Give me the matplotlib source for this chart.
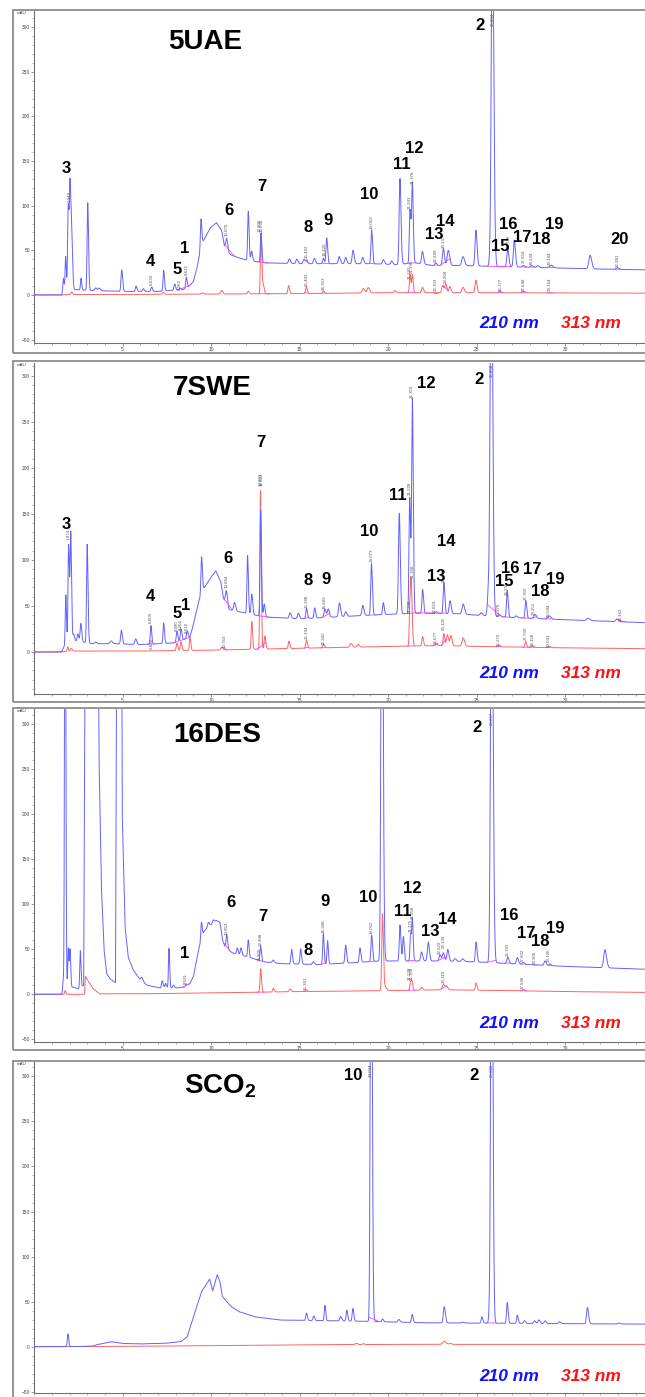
# HPLC chromatograms 210 / 313 nm, four extracts
import numpy as np
import matplotlib.pyplot as plt
from matplotlib.patches import Rectangle
from matplotlib.ticker import MultipleLocator, FixedLocator

plt.rcParams['font.family'] = ['Liberation Sans', 'DejaVu Sans']
plt.rcParams['mathtext.fontset'] = 'custom'
plt.rcParams['mathtext.rm'] = 'Liberation Sans:bold'

# ---------------- data (min, mAU) ----------------
# 5UAE
uae_blue_base = [(0, 0), (1.55, 0), (1.7, 5), (2.3, 6), (3.3, 5), (5, 4), (7, 4), (8.4, 6), (8.7, 9),
                 (9.0, 15), (9.2, 30), (9.4, 50), (9.55, 60), (9.95, 75), (10.3, 81), (10.6, 72),
                 (10.75, 55), (11.0, 46), (11.5, 42), (12.0, 39), (13, 36), (15, 35), (19, 35),
                 (20.5, 34), (21.5, 36), (22.5, 33), (24, 33), (26, 32), (28, 31), (30, 30),
                 (32, 29), (35, 28)]
uae_blue_peaks = [(1.65, 15, .03), (1.78, 38, .03), (1.93, 95, .035), (2.03, 112, .035), (2.12, 60, .04),
                  (2.65, 13, .03), (3.03, 98, .035), (3.48, 3, .05), (3.67, 3, .05), (4.95, 24, .04),
                  (5.76, 6, .04), (6.17, 3, .04), (6.64, 5, .04), (7.32, 23, .035), (7.94, 7, .04),
                  (8.24, 2, .04), (8.6, 12, .035), (9.43, 33, .035), (10.88, 13, .05), (12.1, 55, .035),
                  (12.29, 11, .04), (12.82, 33, .035), (14.42, 5, .05), (14.84, 5, .05), (15.25, 5, .05),
                  (15.4, 4, .04), (15.83, 6, .05), (16.34, 6, .04), (16.53, 29, .04), (17.24, 8, .05),
                  (17.6, 7, .05), (18.02, 15, .05), (18.56, 7, .05), (19.07, 38, .04), (19.73, 5, .05),
                  (20.2, 4, .05), (20.67, 96, .045), (21.24, 60, .04), (21.37, 88, .04), (21.94, 14, .05),
                  (22.69, 3, .05), (23.12, 19, .05), (23.4, 17, .06), (24.23, 10, .07), (24.96, 40, .05),
                  (25.76, 8, .05), (25.89, 400, .06), (26.76, 20, .05), (27.13, 30, .05), (27.64, 2, .05),
                  (28.11, 2, .06), (28.45, 2, .06), (29.2, 3, .08), (31.41, 15, .07), (32.95, 2, .06)]
uae_red_base = [(0, 0), (1.55, 0), (2, .5), (5, .5), (10, 1), (15, 1.5), (20, 2.5), (25, 2.5), (35, 2)]
uae_red_peaks = [(2.12, 3, .04), (7.3, 2, .05), (9.5, 1.5, .05), (10.6, 4, .05), (12.1, 3, .04),
                 (12.82, 68, .035), (12.95, 10, .04), (14.38, 9, .04), (15.38, 8, .04), (16.34, 3, .04),
                 (18.6, 5, .06), (18.88, 6, .06), (20.39, 2.5, .05), (21.24, 21, .035), (21.37, 20, .035),
                 (21.94, 6, .05), (23.08, 8, .05), (23.25, 10, .05), (23.49, 7, .05), (24.23, 6, .06),
                 (24.96, 14, .05), (26.32, 2, .06), (27.64, 2, .06)]
uae_nums = ["3", "4", "5", "1", "6", "7", "8", "9", "10", "11", "12", "13", "14", "2", "15", "16", "17", "18", "19", "20"]
uae_num_pos = [(1.8, 142), (6.55, 38), (8.09, 28), (8.53, 52), (11.01, 95), (12.86, 121), (15.49, 75),
               (16.62, 83), (18.92, 113), (20.77, 146), (21.48, 164), (22.59, 68), (23.21, 82), (25.19, 302),
               (26.32, 54), (26.79, 79), (27.6, 64), (28.63, 62), (29.37, 79), (33.07, 62)]
uae_rt_blue = [(2.03, 104, "2.049"), (6.64, 11, "6.639"), (8.24, 6, "8.262"), (8.6, 22, "8.615"),
               (10.88, 66, "10.870"), (12.76, 70, "12.806"), (12.88, 70, "12.830"), (15.4, 41, "15.402"),
               (16.42, 44, "16.420"), (19.07, 74, "19.063"), (21.22, 96, "21.243"), (21.37, 124, "21.376"),
               (22.69, 37, "22.689"), (23.14, 53, "23.137"), (25.89, 316, "25.884"), (26.8, 53, "26.798"),
               (27.65, 36, "27.654"), (28.12, 34, "28.124"), (29.16, 34, "29.164"), (32.98, 31, "32.981")]
uae_rt_red = [(15.4, 10, "15.403"), (16.35, 5, "16.353"), (21.2, 18, "21.242"), (21.33, 25, "21.335"),
              (22.7, 4, "22.703"), (23.27, 13, "23.268"), (26.38, 4, "26.377"), (27.65, 4, "27.648"),
              (29.16, 4, "29.164")]
uae_marks_blue = [(8.1, 8.75), (10.73, 11.3), (12.6, 13.2), (15.3, 15.55), (16.25, 16.7), (18.95, 19.25),
                  (21.1, 21.55), (22.55, 22.8), (22.95, 23.5), (25.6, 26.5), (26.55, 26.95), (27.55, 27.8),
                  (28.0, 28.3), (29.0, 29.4), (32.8, 33.15)]
uae_marks_red = [(12.7, 13.3), (15.3, 15.5), (16.25, 16.5), (21.1, 21.5), (22.6, 22.8), (23.1, 23.4),
                 (26.2, 26.5), (27.5, 27.8), (29.0, 29.3)]

# 7SWE
swe_blue_base = [(0, 0), (1.55, 0), (1.7, 6), (2.3, 12), (3.3, 9), (4.5, 9), (6, 8), (8, 10), (8.8, 16),
                 (9.0, 30), (9.3, 55), (9.55, 68), (9.95, 80), (10.27, 88), (10.55, 76), (10.7, 58),
                 (11.0, 46), (11.5, 44), (12, 42), (13, 38), (15, 36), (17, 38), (19, 40), (21.5, 42),
                 (24, 41.5), (26, 38.5), (27.5, 37), (30, 35), (35, 31.5)]
swe_blue_peaks = [(1.79, 55, .03), (1.95, 108, .035), (2.07, 118, .035), (2.23, 8, .04), (2.47, 8, .04),
                  (2.64, 20, .04), (3.0, 107, .035), (3.47, 2, .05), (4.35, 3, .06), (4.93, 15, .04),
                  (5.74, 6, .05), (6.6, 20, .035), (7.32, 22, .035), (8.07, 12, .04), (8.3, 13, .04),
                  (8.65, 8, .04), (9.46, 40, .035), (10.86, 15, .05), (11.32, 9, .05), (12.06, 63, .035),
                  (12.3, 22, .04), (12.8, 115, .035), (13.0, 14, .04), (14.46, 6, .05), (14.93, 6, .05),
                  (15.39, 11, .04), (15.85, 11, .04), (16.43, 9, .05), (16.62, 9, .05), (17.25, 15, .05),
                  (17.6, 5, .05), (18.57, 11, .05), (19.06, 56, .04), (19.73, 13, .04), (20.63, 109, .045),
                  (21.22, 126, .04), (21.37, 232, .04), (21.95, 26, .04), (22.72, 2, .05), (23.15, 34, .04),
                  (23.5, 14, .05), (24.24, 11, .06), (25.26, 3, .06), (25.68, 30, .06), (25.83, 450, .06),
                  (26.3, 2, .05), (26.73, 29, .04), (27.24, 2, .05), (27.78, 19, .04), (28.3, 4.5, .06),
                  (29.1, 3.5, .07), (31.3, 2.5, .08), (32.93, 3, .06)]
swe_red_base = [(0, 0), (1.55, 0), (2, 1), (6, 1), (10, 2), (15, 4), (20, 6), (23, 7), (25, 6),
                (30, 4.5), (35, 3.5)]
swe_red_peaks = [(1.9, 5, .03), (2.1, 3, .04), (8.07, 8, .04), (8.3, 9, .04), (8.81, 14, .035),
                 (10.6, 3, .05), (12.3, 30, .035), (12.79, 172, .035), (13.04, 14, .04), (14.4, 8, .04),
                 (15.39, 9, .04), (16.36, 4, .04), (17.9, 4, .06), (18.3, 3, .06), (21.22, 30, .03),
                 (21.3, 70, .045), (21.95, 10, .04), (22.72, 3, .05), (23.15, 13, .04), (23.35, 12, .05),
                 (23.55, 11, .05), (24.24, 9, .06), (26.26, 2, .05), (27.77, 6, .04), (28.16, 2, .05),
                 (29.1, 1.5, .05)]
swe_nums = ["3", "4", "5", "1", "6", "7", "8", "9", "10", "11", "12", "13", "14", "2", "15", "16", "17", "18", "19"]
swe_num_pos = [(1.79, 138), (6.56, 60), (8.07, 42), (8.58, 51), (10.97, 102), (12.79, 227), (15.46, 78),
               (16.5, 79), (18.94, 131), (20.57, 170), (22.17, 291), (22.71, 82), (23.29, 120), (25.15, 296),
               (26.54, 76), (26.89, 91), (28.12, 89), (28.59, 66), (29.45, 79)]
swe_rt_blue = [(1.97, 122, "1.974"), (6.61, 31, "6.609"), (6.63, 3, "6.632"), (8.08, 23, "8.080"),
               (8.27, 24, "8.266"), (8.61, 21, "8.610"), (10.86, 69, "10.864"), (12.79, 180, "12.801"),
               (12.86, 180, "12.822"), (15.39, 48, "15.388"), (16.41, 47, "16.409"), (19.07, 98, "19.073"),
               (21.23, 170, "21.228"), (21.36, 276, "21.359"), (21.42, 80, "21.368"), (21.25, 42, "21.248"),
               (22.66, 42, "22.659"), (23.15, 76, "23.148"), (25.86, 314, "25.858"), (26.27, 39, "26.270"),
               (26.73, 62, "26.735"), (27.77, 56, "27.769"), (28.25, 40, "28.251"), (29.09, 38, "29.094"),
               (33.16, 34, "33.162")]
swe_rt_red = [(10.76, 4, "10.763"), (15.39, 14, "15.394"), (16.34, 8, "16.342"), (22.68, 9, "22.677"),
              (23.13, 24, "23.125"), (26.27, 6, "26.272"), (27.77, 13, "27.799"), (28.16, 6, "28.158"),
              (29.09, 5, "29.093")]
swe_marks_blue = [(6.4, 6.8), (7.9, 8.8), (10.7, 11.2), (12.6, 13.3), (15.25, 15.5), (16.3, 16.7),
                  (18.9, 19.3), (21.05, 21.55), (21.55, 23.3), (25.6, 26.4), (26.5, 26.9), (27.6, 27.95),
                  (28.1, 28.4), (28.9, 29.3), (33.0, 33.4)]
swe_marks_red = [(10.6, 10.9), (12.6, 13.1), (15.25, 15.5), (16.2, 16.5), (21.1, 21.5), (22.5, 22.8),
                 (23.0, 23.3), (26.1, 26.4), (27.6, 28.3), (28.9, 29.2)]

# 16DES
des_blue_base = [(0, 0), (1.55, 0), (1.7, 5), (2.2, 8), (2.5, 6), (2.8, 10), (2.86, 300), (2.95, 700),
                 (3.5, 700), (3.67, 260), (3.8, 120), (3.95, 50), (4.1, 23), (4.3, 17), (4.6, 13),
                 (4.66, 400), (4.75, 700), (4.9, 700), (4.98, 200), (5.14, 75), (5.32, 41), (5.6, 27),
                 (6.0, 16), (6.4, 10), (7.1, 7), (8.0, 7), (8.5, 8), (8.8, 12), (9.0, 20), (9.3, 50),
                 (9.6, 70), (9.95, 77), (10.3, 82), (10.5, 80), (10.65, 60), (10.8, 52), (11.2, 46),
                 (12.0, 42), (13, 36), (14, 34), (16, 33), (18, 35), (19.5, 37), (23, 37), (25, 36),
                 (27, 34), (30, 31), (35, 27.5)]
des_blue_peaks = [(1.65, 12, .03), (1.75, 600, .03), (1.93, 45, .03), (2.03, 42, .03), (2.61, 41, .03),
                  (6.08, 4, .05), (7.24, 8, .04), (7.43, 5, .04), (7.62, 44, .03), (7.87, 3, .04),
                  (8.59, 2, .04), (9.45, 20, .035), (9.84, 5, .04), (10.13, 3, .04), (10.88, 16, .04),
                  (11.48, 7, .04), (11.69, 8, .04), (12.1, 19, .035), (12.8, 16, .035), (13.5, 3, .05),
                  (14.55, 16, .04), (15.06, 17, .04), (15.77, 3, .05), (16.34, 34, .035), (16.58, 26, .035),
                  (17.6, 20, .04), (18.41, 16, .04), (19.07, 29, .04), (19.65, 600, .05), (20.67, 40, .04),
                  (20.86, 27, .04), (21.27, 30, .035), (21.37, 45, .035), (21.89, 10, .05), (22.27, 21, .05),
                  (22.93, 7, .05), (23.12, 9, .05), (23.37, 13, .05), (23.78, 3, .06), (24.21, 3, .06),
                  (24.97, 22, .04), (25.85, 500, .06), (26.76, 7, .05), (27.3, 7, .05), (27.64, 2, .05),
                  (28.86, 5, .05), (29.14, 2, .05), (32.25, 20, .07)]
des_red_base = [(0, 0), (1.55, 0), (2.85, 0), (2.9, 20), (3.1, 13), (3.35, 6), (3.7, .5), (6, .5),
                (10, 1.5), (15, 3), (20, 4), (23, 5), (27, 4), (30, 3), (35, 2)]
des_red_peaks = [(1.75, 4, .03), (12.8, 26, .035), (13.52, 4, .04), (14.46, 3, .05), (15.36, 2, .05),
                 (19.68, 84, .04), (19.8, 5, .08), (21.27, 9, .04), (21.35, 8, .04), (21.89, 3, .05),
                 (23.12, 6, .06), (23.3, 4, .06), (24.97, 8, .04), (27.64, 1.5, .05)]
des_nums = ["1", "6", "7", "8", "9", "10", "11", "12", "13", "14", "2", "16", "17", "18", "19"]
des_num_pos = [(8.49, 45), (11.13, 102), (12.95, 86), (15.5, 49), (16.43, 103), (18.87, 108), (20.85, 92),
               (21.38, 117), (22.4, 70), (23.33, 83), (25.03, 296), (26.84, 88), (27.82, 67), (28.59, 59),
               (29.45, 73)]
des_rt_blue = [(8.59, 11, "8.591"), (10.85, 66, "10.853"), (12.81, 54, "12.808"), (12.75, 37, "12.800"),
               (16.35, 68, "16.348"), (19.05, 67, "19.052"), (21.28, 69, "21.275"), (21.37, 84, "21.358"),
               (22.93, 45, "22.929"), (23.17, 51, "23.135"), (25.86, 314, "25.867"), (26.77, 43, "26.765"),
               (27.6, 36, "27.602"), (28.3, 34, "28.300"), (29.1, 36, "29.100")]
des_rt_red = [(15.36, 5, "15.361"), (21.22, 16, "21.238"), (21.33, 16, "21.358"), (23.12, 12, "23.119"),
              (27.6, 6, "27.598")]
des_marks_blue = [(8.4, 8.8), (10.7, 11.1), (12.6, 13.0), (16.2, 16.5), (18.9, 19.25), (21.1, 21.5),
                  (22.8, 23.3), (25.6, 26.1), (26.6, 26.9), (27.5, 27.75), (28.2, 28.4), (29.0, 29.3)]
des_marks_red = [(12.6, 13.0), (15.2, 15.5), (21.1, 21.5), (23.0, 23.3), (27.5, 27.8)]

# SCO2
sco_blue_base = [(0, 0), (1.55, 0), (2.1, 0), (3.3, .5), (3.5, 2), (4.0, 4), (4.35, 5.5), (5, 3.5),
                 (6, 3), (7.4, 3.7), (8.3, 5.6), (8.65, 11), (9.0, 33), (9.46, 61), (9.92, 75),
                 (10.09, 62), (10.35, 80), (10.5, 72), (10.63, 56), (11.1, 45), (11.55, 39), (12.5, 33),
                 (13.9, 29.5), (16, 29), (19, 28), (22, 26.5), (26, 26), (30, 25.5), (35, 25)]
sco_blue_peaks = [(1.91, 14, .035), (15.39, 8, .04), (15.8, 5, .04), (16.43, 17, .035), (17.32, 5, .05),
                  (17.67, 12, .04), (18.01, 14, .04), (19.04, 600, .045), (19.69, 3, .04), (20.6, 3, .05),
                  (21.36, 9, .04), (23.17, 18, .05), (24.22, 1, .05), (25.3, 7, .04), (25.75, 20, .05),
                  (25.85, 600, .05), (26.73, 23, .04), (27.3, 9, .04), (27.7, 3, .05), (28.27, 3, .05),
                  (28.52, 4, .05), (28.87, 3, .05), (29.68, 2, .06), (31.26, 18, .05), (33.05, 1, .05)]
sco_red_base = [(0, 0), (1.55, 0), (5, .3), (14, 1.7), (20, 2.5), (35, 2.5)]
sco_red_peaks = [(18.2, 1.5, .06), (18.6, 1, .05), (23.17, 3.5, .08), (23.5, 1, .06)]
sco_nums = ["10", "2"]
sco_num_pos = [(18.02, 301), (24.87, 301)]
sco_rt_blue = [(19.04, 314, "19.044"), (25.84, 314, "25.842")]
sco_rt_red = []
sco_marks_blue = [(18.9, 19.5), (25.6, 26.1)]
sco_marks_red = []

titles = ["5UAE", "7SWE", "16DES", r"SCO$_{2}$"]
title_pos = [(7.56, 283), (7.84, 287), (7.88, 288), (8.49, 289)]
legend_v = [-32, -23, -32, -33]

# ---------------- layout (pixels of the 645 x 1397 picture) ----------------
W, H = 645, 1397
ax_left, ax_right = 34.1, 653.6
ax_tops = [11, 362.7, 709.3, 1062]
ax_bots = [343, 694, 1041.7, 1393.3]
ylims = [(-53.8, 318), (-45.6, 314), (-52.7, 316.7), (-51.8, 316)]
frames = [(10, 352.7), (361, 702), (708, 1050), (1061, 1405)]

BLUE = '#6262ff'
RED = '#ff6262'
PINK = '#ff40ff'

t = np.linspace(0, 35, 7001)


def trace(base, peaks):
    bt = [p[0] for p in base]
    bv = [p[1] for p in base]
    y = np.interp(t, bt, bv)
    for pt, ph, pw in peaks:
        s = np.where(t < pt, pw, pw * 1.3)
        y = y + ph * np.exp(-0.5 * ((t - pt) / s) ** 2)
    return y


panels = [
    (uae_blue_base, uae_blue_peaks, uae_red_base, uae_red_peaks, uae_nums, uae_num_pos,
     uae_rt_blue, uae_rt_red, uae_marks_blue, uae_marks_red),
    (swe_blue_base, swe_blue_peaks, swe_red_base, swe_red_peaks, swe_nums, swe_num_pos,
     swe_rt_blue, swe_rt_red, swe_marks_blue, swe_marks_red),
    (des_blue_base, des_blue_peaks, des_red_base, des_red_peaks, des_nums, des_num_pos,
     des_rt_blue, des_rt_red, des_marks_blue, des_marks_red),
    (sco_blue_base, sco_blue_peaks, sco_red_base, sco_red_peaks, sco_nums, sco_num_pos,
     sco_rt_blue, sco_rt_red, sco_marks_blue, sco_marks_red),
]

fig = plt.figure(figsize=(W / 100, H / 100), dpi=100)

for i, (bb, bp, rb, rp, nums, npos, rtb, rtr, mb, mr) in enumerate(panels):
    top, bot = ax_tops[i], ax_bots[i]
    ax = fig.add_axes([ax_left / W, 1 - bot / H, (ax_right - ax_left) / W, (bot - top) / H])
    ax.set_xlim(0, 35)
    ax.set_ylim(*ylims[i])

    yb = trace(bb, bp)
    yr = trace(rb, rp)
    ax.plot(t, yr, color=RED, lw=0.7, zorder=2)
    ax.plot(t, yb, color=BLUE, lw=0.7, zorder=3)

    # integration baselines
    for t1, t2 in mb:
        ax.plot([t1, t2], [np.interp(t1, t, yb), np.interp(t2, t, yb)], color=PINK, lw=0.6, zorder=4)
    for t1, t2 in mr:
        ax.plot([t1, t2], [np.interp(t1, t, yr), np.interp(t2, t, yr)], color=PINK, lw=0.6, zorder=4)

    # retention time labels
    ytop = ylims[i][1]
    for rt_list in (rtb, rtr):
        for rt, v, s in rt_list:
            va = 'top' if v >= ytop - 5 else 'bottom'
            ax.text(rt, min(v, ytop - 1), s, rotation=90, fontsize=3.2, color='#555555',
                    ha='center', va=va, zorder=5)

    # compound numbers
    for s, (nt, nv) in zip(nums, npos):
        ax.text(nt, nv, s, fontsize=12, fontweight='bold', ha='center', va='center', color='black', zorder=6)

    tt, tv = title_pos[i]
    ax.text(tt, tv, titles[i], fontsize=20, fontweight='bold', ha='left', va='center', zorder=6)

    ax.text(26.85, legend_v[i], "210 nm", fontsize=12.5, fontweight='bold', style='italic',
            color='#1010ff', ha='center', va='center')
    ax.text(31.45, legend_v[i], "313 nm", fontsize=12.5, fontweight='bold', style='italic',
            color='#ff1010', ha='center', va='center')

    # axes look
    for side in ('top', 'right'):
        ax.spines[side].set_visible(False)
    for side in ('left', 'bottom'):
        ax.spines[side].set_color('#707070')
        ax.spines[side].set_linewidth(0.8)
    ax.xaxis.set_major_locator(FixedLocator([5, 10, 15, 20, 25, 30]))
    ax.xaxis.set_minor_locator(MultipleLocator(1))
    ax.yaxis.set_major_locator(MultipleLocator(50))
    ax.yaxis.set_minor_locator(MultipleLocator(10))
    ax.tick_params(which='major', labelsize=3.5, length=2, width=0.5, colors='#707070',
                   labelcolor='#444444', pad=1)
    ax.tick_params(which='minor', length=1.2, width=0.4, colors='#707070')
    if i == 3:
        # bottom chromatogram: the picture ends just under its axis line
        ax.tick_params(labelbottom=False)
    ax.text(-0.012, 1.0, "mAU", transform=ax.transAxes, fontsize=3.2, color='#444444',
            ha='right', va='top')

    # grey frame around each chromatogram
    ft, fb = frames[i]
    fig.add_artist(Rectangle((12.7 / W, 1 - fb / H), 1.0, (fb - ft) / H, transform=fig.transFigure,
                             fill=False, ec='#8c8c8c', lw=1.3))

fig.savefig('out.png', dpi=100)
